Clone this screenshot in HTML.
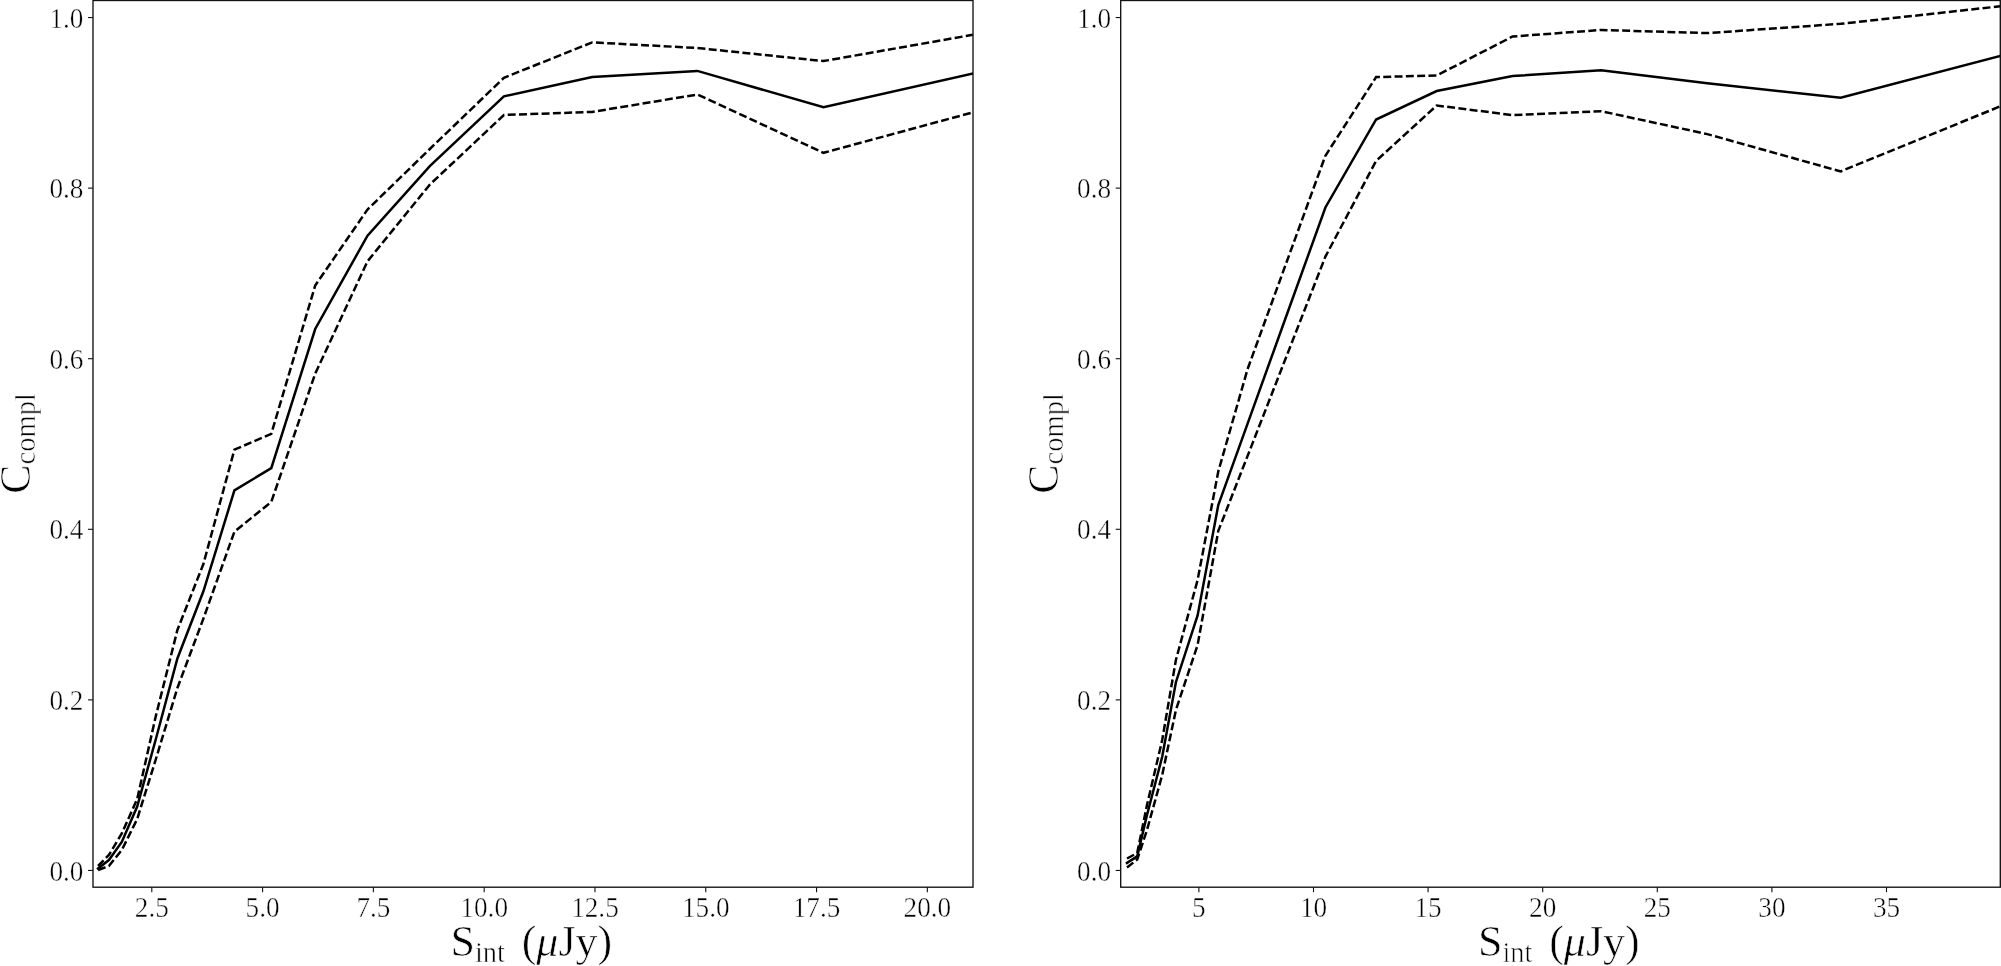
<!DOCTYPE html>
<html><head><meta charset="utf-8"><style>
html,body{margin:0;padding:0;background:#fff;width:2001px;height:966px;overflow:hidden}
svg{display:block;will-change:transform}
.tk{font-family:"Liberation Serif", serif;font-size:28.5px;fill:#000;stroke:#fff;stroke-width:0.45px}
.lab{font-family:"Liberation Serif", serif;font-size:44px;fill:#000;stroke:#fff;stroke-width:0.6px}
.sub{font-size:28.5px}
</style></head><body>
<svg width="2001" height="966" viewBox="0 0 2001 966">
<rect width="100%" height="100%" fill="#fff"/>
<clipPath id="cL"><rect x="93.0" y="0" width="880.0" height="887.2"/></clipPath>
<g clip-path="url(#cL)" fill="none" stroke="#000" stroke-width="2.5" stroke-linejoin="miter" stroke-linecap="butt">
<path d="M98.0,866.0 L108.9,855.0 L121.8,833.5 L137.2,799.0 L155.6,717.0 L177.4,630.0 L203.4,564.0 L234.4,449.7 L271.3,433.8 L315.2,285.5 L367.5,209.5 L429.8,149.0 L503.9,77.8 L592.2,42.4 L697.4,48.0 L823.5,61.1 L972.8,34.8" stroke-dasharray="7.95 3.35"/>
<path d="M98.0,870.0 L108.9,866.0 L121.8,850.0 L137.2,819.0 L155.6,760.0 L177.4,688.0 L203.4,618.6 L234.4,531.7 L271.3,501.9 L315.2,373.6 L367.5,261.3 L429.8,184.6 L503.9,115.0 L592.2,111.9 L697.4,94.5 L823.5,152.8 L972.8,112.4" stroke-dasharray="7.95 3.35"/>
<path d="M98.0,868.4 L108.9,860.0 L121.8,842.0 L137.2,806.5 L155.6,740.0 L177.4,658.5 L203.4,591.3 L234.4,490.4 L271.3,468.1 L315.2,329.0 L367.5,235.7 L429.8,166.2 L503.9,96.4 L592.2,77.1 L697.4,70.9 L823.5,107.3 L972.8,73.6" stroke-linecap="square"/>
</g>
<rect x="93.0" y="0.5" width="880.0" height="886.7" fill="none" stroke="#111" stroke-width="1.35"/>
<line x1="151.80" y1="887.2" x2="151.80" y2="892.2" stroke="#111" stroke-width="1.1"/>
<text transform="translate(151.80,916.9) scale(0.955,1)" text-anchor="middle" class="tk">2.5</text>
<line x1="262.59" y1="887.2" x2="262.59" y2="892.2" stroke="#111" stroke-width="1.1"/>
<text transform="translate(262.59,916.9) scale(0.955,1)" text-anchor="middle" class="tk">5.0</text>
<line x1="373.38" y1="887.2" x2="373.38" y2="892.2" stroke="#111" stroke-width="1.1"/>
<text transform="translate(373.38,916.9) scale(0.955,1)" text-anchor="middle" class="tk">7.5</text>
<line x1="484.18" y1="887.2" x2="484.18" y2="892.2" stroke="#111" stroke-width="1.1"/>
<text transform="translate(484.18,916.9) scale(0.955,1)" text-anchor="middle" class="tk">10.0</text>
<line x1="594.97" y1="887.2" x2="594.97" y2="892.2" stroke="#111" stroke-width="1.1"/>
<text transform="translate(594.97,916.9) scale(0.955,1)" text-anchor="middle" class="tk">12.5</text>
<line x1="705.76" y1="887.2" x2="705.76" y2="892.2" stroke="#111" stroke-width="1.1"/>
<text transform="translate(705.76,916.9) scale(0.955,1)" text-anchor="middle" class="tk">15.0</text>
<line x1="816.56" y1="887.2" x2="816.56" y2="892.2" stroke="#111" stroke-width="1.1"/>
<text transform="translate(816.56,916.9) scale(0.955,1)" text-anchor="middle" class="tk">17.5</text>
<line x1="927.35" y1="887.2" x2="927.35" y2="892.2" stroke="#111" stroke-width="1.1"/>
<text transform="translate(927.35,916.9) scale(0.955,1)" text-anchor="middle" class="tk">20.0</text>
<line x1="88.0" y1="870.45" x2="93.0" y2="870.45" stroke="#111" stroke-width="1.1"/>
<text transform="translate(83.40,880.65) scale(0.955,1)" text-anchor="end" class="tk">0.0</text>
<line x1="88.0" y1="699.87" x2="93.0" y2="699.87" stroke="#111" stroke-width="1.1"/>
<text transform="translate(83.40,710.07) scale(0.955,1)" text-anchor="end" class="tk">0.2</text>
<line x1="88.0" y1="529.29" x2="93.0" y2="529.29" stroke="#111" stroke-width="1.1"/>
<text transform="translate(83.40,539.49) scale(0.955,1)" text-anchor="end" class="tk">0.4</text>
<line x1="88.0" y1="358.71" x2="93.0" y2="358.71" stroke="#111" stroke-width="1.1"/>
<text transform="translate(83.40,368.91) scale(0.955,1)" text-anchor="end" class="tk">0.6</text>
<line x1="88.0" y1="188.13" x2="93.0" y2="188.13" stroke="#111" stroke-width="1.1"/>
<text transform="translate(83.40,198.33) scale(0.955,1)" text-anchor="end" class="tk">0.8</text>
<line x1="88.0" y1="17.55" x2="93.0" y2="17.55" stroke="#111" stroke-width="1.1"/>
<text transform="translate(83.40,27.75) scale(0.955,1)" text-anchor="end" class="tk">1.0</text>
<text x="450.4" y="956.2" class="lab">S<tspan class="sub" dy="5.3">int</tspan></text>
<text x="612.2" y="956.2" text-anchor="end" class="lab">(<tspan font-style="italic">μ</tspan>Jy)</text>
<text transform="translate(30.4,443.5) rotate(-90)" text-anchor="middle" class="lab">C<tspan class="sub" dy="5">compl</tspan></text>
<clipPath id="cR"><rect x="1120.7" y="0" width="879.5999999999999" height="887.2"/></clipPath>
<g clip-path="url(#cR)" fill="none" stroke="#000" stroke-width="2.5" stroke-linejoin="miter" stroke-linecap="butt">
<path d="M1127.0,858.5 L1137.2,853.0 L1147.0,805.0 L1162.2,740.0 L1175.9,660.0 L1197.6,580.0 L1218.3,471.4 L1247.6,369.0 L1282.0,274.7 L1325.4,155.7 L1376.1,77.1 L1436.7,75.5 L1512.6,36.5 L1601.1,30.0 L1707.3,33.1 L1840.7,23.8 L2000.3,6.3" stroke-dasharray="7.95 3.35"/>
<path d="M1127.0,867.5 L1137.2,859.6 L1147.0,830.0 L1162.2,775.0 L1175.9,710.0 L1197.6,645.0 L1218.3,530.9 L1247.6,455.9 L1282.0,367.8 L1325.4,256.6 L1376.1,160.9 L1436.7,105.5 L1512.6,115.1 L1601.1,111.2 L1707.3,134.1 L1840.7,171.4 L2000.3,106.3" stroke-dasharray="7.95 3.35"/>
<path d="M1127.0,862.9 L1137.2,856.4 L1147.0,815.0 L1162.2,756.8 L1175.9,682.2 L1197.6,615.4 L1218.3,505.0 L1247.6,423.6 L1282.0,328.0 L1325.4,207.5 L1376.1,119.5 L1436.7,91.0 L1512.6,76.0 L1601.1,70.3 L1707.3,83.3 L1840.7,97.7 L2000.3,56.0" stroke-linecap="square"/>
</g>
<rect x="1120.7" y="0.5" width="879.5999999999999" height="886.7" fill="none" stroke="#111" stroke-width="1.35"/>
<line x1="1198.90" y1="887.2" x2="1198.90" y2="892.2" stroke="#111" stroke-width="1.1"/>
<text transform="translate(1198.90,916.9) scale(0.955,1)" text-anchor="middle" class="tk">5</text>
<line x1="1313.50" y1="887.2" x2="1313.50" y2="892.2" stroke="#111" stroke-width="1.1"/>
<text transform="translate(1313.50,916.9) scale(0.955,1)" text-anchor="middle" class="tk">10</text>
<line x1="1428.10" y1="887.2" x2="1428.10" y2="892.2" stroke="#111" stroke-width="1.1"/>
<text transform="translate(1428.10,916.9) scale(0.955,1)" text-anchor="middle" class="tk">15</text>
<line x1="1542.70" y1="887.2" x2="1542.70" y2="892.2" stroke="#111" stroke-width="1.1"/>
<text transform="translate(1542.70,916.9) scale(0.955,1)" text-anchor="middle" class="tk">20</text>
<line x1="1657.30" y1="887.2" x2="1657.30" y2="892.2" stroke="#111" stroke-width="1.1"/>
<text transform="translate(1657.30,916.9) scale(0.955,1)" text-anchor="middle" class="tk">25</text>
<line x1="1771.90" y1="887.2" x2="1771.90" y2="892.2" stroke="#111" stroke-width="1.1"/>
<text transform="translate(1771.90,916.9) scale(0.955,1)" text-anchor="middle" class="tk">30</text>
<line x1="1886.50" y1="887.2" x2="1886.50" y2="892.2" stroke="#111" stroke-width="1.1"/>
<text transform="translate(1886.50,916.9) scale(0.955,1)" text-anchor="middle" class="tk">35</text>
<line x1="1115.7" y1="870.45" x2="1120.7" y2="870.45" stroke="#111" stroke-width="1.1"/>
<text transform="translate(1111.10,880.65) scale(0.955,1)" text-anchor="end" class="tk">0.0</text>
<line x1="1115.7" y1="699.87" x2="1120.7" y2="699.87" stroke="#111" stroke-width="1.1"/>
<text transform="translate(1111.10,710.07) scale(0.955,1)" text-anchor="end" class="tk">0.2</text>
<line x1="1115.7" y1="529.29" x2="1120.7" y2="529.29" stroke="#111" stroke-width="1.1"/>
<text transform="translate(1111.10,539.49) scale(0.955,1)" text-anchor="end" class="tk">0.4</text>
<line x1="1115.7" y1="358.71" x2="1120.7" y2="358.71" stroke="#111" stroke-width="1.1"/>
<text transform="translate(1111.10,368.91) scale(0.955,1)" text-anchor="end" class="tk">0.6</text>
<line x1="1115.7" y1="188.13" x2="1120.7" y2="188.13" stroke="#111" stroke-width="1.1"/>
<text transform="translate(1111.10,198.33) scale(0.955,1)" text-anchor="end" class="tk">0.8</text>
<line x1="1115.7" y1="17.55" x2="1120.7" y2="17.55" stroke="#111" stroke-width="1.1"/>
<text transform="translate(1111.10,27.75) scale(0.955,1)" text-anchor="end" class="tk">1.0</text>
<text x="1477.9" y="956.2" class="lab">S<tspan class="sub" dy="5.3">int</tspan></text>
<text x="1639.7" y="956.2" text-anchor="end" class="lab">(<tspan font-style="italic">μ</tspan>Jy)</text>
<text transform="translate(1058.1,443.5) rotate(-90)" text-anchor="middle" class="lab">C<tspan class="sub" dy="5">compl</tspan></text>
</svg>
</body></html>
